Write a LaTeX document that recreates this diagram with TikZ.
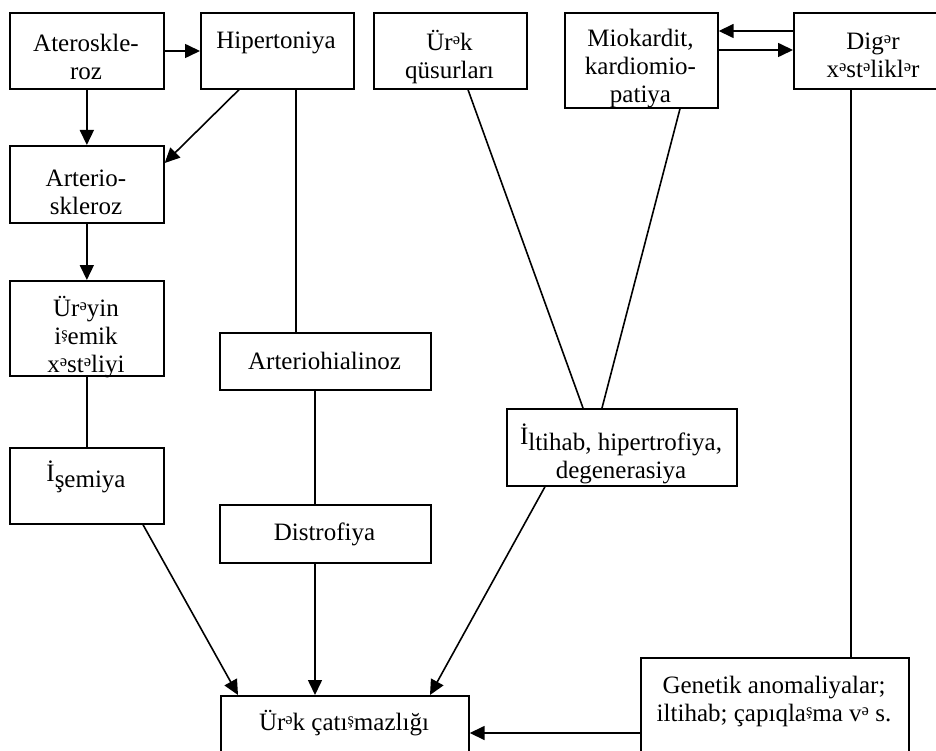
\documentclass[tikz,border=0pt]{standalone}
\usepackage{fontspec}
\setmainfont{Liberation Serif}
\usetikzlibrary{arrows.meta,calc}
\newcommand{\sw}{\raisebox{5.5pt}{\fontsize{16.5}{16.5}\selectfont ə}}
\newcommand{\ssh}{\raisebox{5.5pt}{\fontsize{16.5}{16.5}\selectfont ş}}
\newcommand{\uI}{\raisebox{6pt}{İ}}
\begin{document}
\begin{tikzpicture}[x=1pt,y=-1pt,
  box/.style={draw, line width=1.7pt, inner sep=0pt, anchor=north west},
  lbl/.style={align=center, font=\fontsize{25}{28}\selectfont, inner sep=0pt},
  con/.style={line width=1.6pt},
  arr/.style={con, -{Triangle[length=15pt,width=14pt]}}]
\useasboundingbox (0,0) rectangle (936,751);
\clip (0,0) rectangle (936,751);
% boxes
\node[box, minimum width=154pt, minimum height=76pt] (ater) at (9,12) {};
\node[box, minimum width=153pt, minimum height=76pt] (hiper) at (200,12) {};
\node[box, minimum width=153pt, minimum height=76pt] (urek) at (373,12) {};
\node[box, minimum width=153pt, minimum height=95pt] (mio) at (564,12) {};
\node[box, minimum width=160pt, minimum height=76pt] (diger) at (793,12) {};
\node[box, minimum width=154pt, minimum height=77pt] (arterio) at (9,145) {};
\node[box, minimum width=154pt, minimum height=95pt] (ureyin) at (9,280) {};
\node[box, minimum width=154pt, minimum height=76pt] (ischemia) at (9,447) {};
\node[box, minimum width=211pt, minimum height=57pt] (arthyal) at (219,332) {};
\node[box, minimum width=211pt, minimum height=58pt] (distro) at (219,504) {};
\node[box, minimum width=230pt, minimum height=77pt] (iltihab) at (506,408) {};
\node[box, minimum width=248pt, minimum height=80pt] (heart) at (220,695) {};
\node[box, minimum width=268pt, minimum height=120pt] (genetic) at (640,657) {};
% texts
\node[lbl] (t-ater) at (86,57) {Ateroskle-\\roz};
\node[lbl] (t-hiper) at (276,43) {Hipertoniya};
\node[lbl] (t-urek) at (449.5,57) {Ür\sw k\\qüsurları};
\node[lbl] (t-mio) at (640.5,69) {Miokardit,\\kardiomio-\\patiya};
\node[lbl] (t-diger) at (873,55) {Dig\sw r\\x\sw st\sw likl\sw r};
\node[lbl] (t-arterio) at (86,192) {Arterio-\\skleroz};
\node[lbl] (t-ureyin) at (86,337) {Ür\sw yin\\i\ssh emik\\x\sw st\sw liyi};
\node[lbl] (t-ischemia) at (86,477) {\uI şemiya};
\node[lbl] (t-arthyal) at (324.5,361) {Arteriohialinoz};
\node[lbl] (t-distro) at (324.5,534) {Distrofiya};
\node[lbl] (t-iltihab) at (621,454) {\uI ltihab, hipertrofiya,\\degenerasiya};
\node[lbl] (t-heart) at (344,723) {Ür\sw k çatı\ssh mazlığı};
\node[lbl] (t-genetic) at (774,701) {Genetik anomaliyalar;\\iltihab; çapıqla\ssh ma v\sw{} s.};
% connectors
\draw[arr] ([yshift=-39pt]ater.north east) -- ([yshift=-39pt]hiper.north west);
\draw[arr] (ater.south) -- (arterio.north);
\draw[arr] ([xshift=39pt]hiper.south west) -- ([yshift=-18pt]arterio.north east);
\draw[con] ([xshift=96pt]hiper.south west) -- ([xshift=77pt]arthyal.north west);
\draw[arr] (arterio.south) -- (ureyin.north);
\draw[con] (ureyin.south) -- (ischemia.north);
\draw[con] ([xshift=96pt]arthyal.south west) -- ([xshift=96pt]distro.north west);
\draw[con] ([xshift=95pt]urek.south west) -- ([xshift=77pt]iltihab.north west);
\draw[con] ([xshift=116pt]mio.south west) -- ([xshift=96pt]iltihab.north west);
\draw[arr] ([yshift=-19pt]diger.north west) -- ([yshift=-19pt]mio.north east);
\draw[arr] ([yshift=-38pt]mio.north east) -- ([yshift=-38pt]diger.north west);
\draw[con] ([xshift=58pt]diger.south west) -- ([xshift=211pt]genetic.north west);
\draw[arr] ([xshift=134pt]ischemia.south west) -- ([xshift=18pt]heart.north west);
\draw[arr] ([xshift=96pt]distro.south west) -- ([xshift=95pt]heart.north west);
\draw[arr] ([xshift=39pt]iltihab.south west) -- ([xshift=210pt]heart.north west);
\draw[arr] ([yshift=-76pt]genetic.north west) -- ([yshift=-38pt]heart.north east);
\end{tikzpicture}
\end{document}
